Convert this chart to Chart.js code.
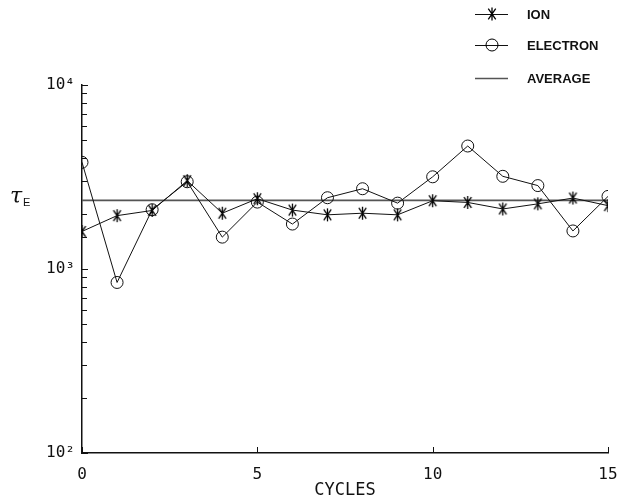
<!DOCTYPE html>
<html><head><meta charset="utf-8">
<script src="https://cdn.jsdelivr.net/npm/chart.js@4.4.0/dist/chart.umd.min.js"></script>
<style>html,body{margin:0;padding:0;background:#fff;}</style>
</head><body>
<canvas id="c" width="619" height="499"></canvas>
<script>
// ---- data ----
const cycles = [0, 1, 2, 3, 4, 5, 6, 7, 8, 9, 10, 11, 12, 13, 14, 15];
const ionValues = [1600, 1950, 2080, 3020, 2010, 2410, 2090, 1970, 2010, 1970, 2350, 2300, 2120, 2260, 2430, 2210];
const electronValues = [3800, 845, 2100, 2980, 1490, 2310, 1755, 2440, 2730, 2280, 3170, 4660, 3190, 2840, 1610, 2480];
const averageValue = 2360;
const averageRange = [0, 15];
const seriesLabels = ['ION', 'ELECTRON', 'AVERAGE'];
const yDecadeLabels = { 100: '10\u00B2', 1000: '10\u00B3', 10000: '10\u2074' };
const xTickStep = 5;
const xTitle = 'CYCLES';

// ---- styles ----
const INK = '#111';
const MONO = '"DejaVu Sans Mono", monospace';

function drawStar(ctx, x, y, r) {
  ctx.beginPath();
  ctx.moveTo(x, y - r); ctx.lineTo(x, y + r);
  const a = 55 * Math.PI / 180;
  const dx = r * Math.cos(a), dy = r * Math.sin(a);
  ctx.moveTo(x - dx, y - dy); ctx.lineTo(x + dx, y + dy);
  ctx.moveTo(x + dx, y - dy); ctx.lineTo(x - dx, y + dy);
  ctx.stroke();
}
const starCanvas = document.createElement('canvas');
starCanvas.width = 15; starCanvas.height = 15;
(function () {
  const g = starCanvas.getContext('2d');
  g.strokeStyle = '#000'; g.lineWidth = 1.3;
  drawStar(g, 7.5, 7.5, 6.5);
})();

const pts = (vals) => cycles.map((c, i) => ({ x: c, y: vals[i] }));

const decorPlugin = {
  id: 'decor',
  afterDraw(chart) {
    const ctx = chart.ctx;
    const ys = chart.scales.y, xs = chart.scales.x;
    const ca = chart.chartArea;
    ctx.save();
    ctx.strokeStyle = INK; ctx.lineWidth = 1;
    // inward y ticks
    ys.ticks.forEach(t => {
      const v = t.value;
      const lg = Math.log10(v);
      const major = Math.abs(lg - Math.round(lg)) < 1e-9;
      const py = Math.round(ys.getPixelForValue(v)) + 0.5;
      ctx.beginPath();
      ctx.moveTo(ca.left, py); ctx.lineTo(ca.left + (major ? 6 : 5), py);
      ctx.stroke();
    });
    // inward x ticks
    xs.ticks.forEach(t => {
      const px = Math.round(xs.getPixelForValue(t.value)) + 0.5;
      ctx.beginPath();
      ctx.moveTo(px, ca.bottom); ctx.lineTo(px, ca.bottom - 6);
      ctx.stroke();
    });
    // y-axis title: tau_E
    ctx.fillStyle = INK;
    ctx.textBaseline = 'alphabetic';
    ctx.textAlign = 'left';
    ctx.font = 'italic 22px "DejaVu Serif", serif';
    ctx.fillText('\u03C4', 10, 203);
    ctx.font = '11px "Liberation Sans", sans-serif';
    ctx.fillText('E', 23, 206);
    // legend
    const lx0 = 475, lx1 = 508, mx = 492, tx = 527;
    const rows = [14, 45, 78];
    ctx.font = 'bold 13px "Liberation Sans", sans-serif';
    ctx.textBaseline = 'middle';
    chart.data.datasets.forEach((ds, i) => {
      const y = rows[i];
      ctx.strokeStyle = ds.borderColor; ctx.lineWidth = ds.borderWidth;
      ctx.beginPath(); ctx.moveTo(lx0, y + 0.5); ctx.lineTo(lx1, y + 0.5); ctx.stroke();
      ctx.strokeStyle = '#000'; ctx.lineWidth = 1.3;
      if (i === 0) drawStar(ctx, mx, y, 6.5);
      ctx.lineWidth = 1;
      if (i === 1) { ctx.beginPath(); ctx.arc(mx, y, 6, 0, Math.PI * 2); ctx.stroke(); }
      ctx.fillStyle = INK;
      ctx.fillText(ds.label, tx, y + 1);
    });
    ctx.restore();
  }
};

new Chart(document.getElementById('c'), {
  type: 'line',
  data: {
    datasets: [
      {
        label: seriesLabels[0], data: pts(ionValues),
        borderColor: INK, borderWidth: 1, pointStyle: starCanvas,
        pointRadius: 6, pointBorderColor: INK, pointBackgroundColor: 'rgba(0,0,0,0)',
        tension: 0, order: 0
      },
      {
        label: seriesLabels[1], data: pts(electronValues),
        borderColor: INK, borderWidth: 1, pointStyle: 'circle',
        pointRadius: 6, pointBorderWidth: 1, pointBorderColor: INK,
        pointBackgroundColor: 'rgba(0,0,0,0)', tension: 0, order: 1
      },
      {
        label: seriesLabels[2],
        data: averageRange.map(x => ({ x: x, y: averageValue })),
        borderColor: '#555', borderWidth: 1.6, pointRadius: 0, tension: 0, order: 2
      }
    ]
  },
  options: {
    responsive: false, animation: false, devicePixelRatio: 1,
    layout: { padding: { top: 85, right: 11, left: 0, bottom: 0 } },
    plugins: { legend: { display: false }, tooltip: { enabled: false } },
    scales: {
      x: {
        type: 'linear', min: 0, max: 15,
        grid: { display: false, drawTicks: false },
        border: { display: true, color: INK, width: 1.5 },
        ticks: { stepSize: xTickStep, color: INK, padding: 12, font: { family: MONO, size: 16 } },
        title: { display: true, text: xTitle, color: INK, padding: 0, font: { family: MONO, size: 17, lineHeight: 1.0 } },
        afterFit(s) { s.height = 46; s.paddingRight = 11; s.paddingLeft = 0; }
      },
      y: {
        type: 'logarithmic', min: 100, max: 10000,
        grid: { display: false, drawTicks: false },
        border: { display: true, color: INK, width: 1.5 },
        ticks: {
          autoSkip: false, color: INK, padding: 7, font: { family: MONO, size: 16 },
          callback: (v) => yDecadeLabels[v] || ''
        },
        afterFit(s) { s.width = 82; s.paddingTop = 0; s.paddingBottom = 0; }
      }
    }
  },
  plugins: [decorPlugin]
});
</script>
</body></html>
